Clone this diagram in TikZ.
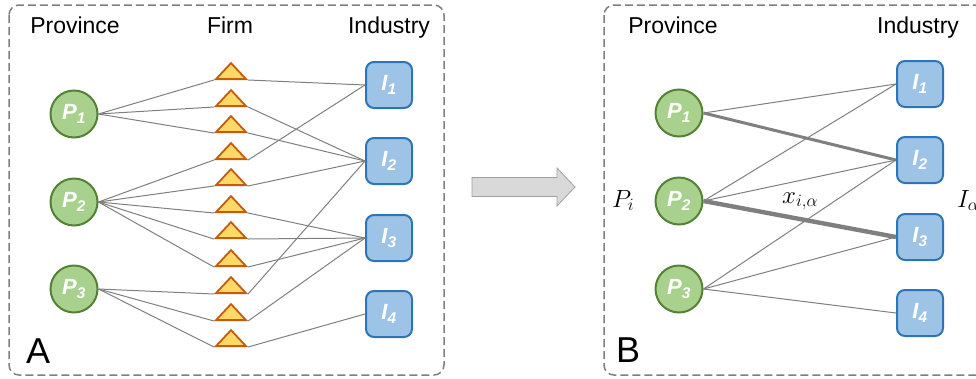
\documentclass[tikz,border=0pt]{standalone}
\usepackage{fontspec}
\setmainfont{Liberation Sans}
\usetikzlibrary{shapes.geometric}
\definecolor{provfill}{HTML}{A9D18E}
\definecolor{provdraw}{HTML}{548235}
\definecolor{firmfill}{HTML}{FFD966}
\definecolor{firmdraw}{HTML}{C55A11}
\definecolor{indfill}{HTML}{9DC3E6}
\definecolor{inddraw}{HTML}{2E75B6}
\definecolor{tiegray}{HTML}{7F7F7F}
\definecolor{panelgray}{HTML}{7F7F7F}
\definecolor{arrowfill}{HTML}{D9D9D9}
\definecolor{arrowdraw}{HTML}{A0A0A0}
\tikzset{
  provnode/.style={
    circle, draw=provdraw, fill=provfill, line width=2pt,
    minimum size=47pt, inner sep=0pt, text=white,
    font=\fontsize{22}{24}\selectfont\bfseries\itshape
  },
  firmtri/.style={
    isosceles triangle, isosceles triangle stretches,
    shape border rotate=90, draw=firmdraw, fill=firmfill,
    line width=1.8pt, minimum width=30pt, minimum height=16pt,
    inner sep=0pt, anchor=lower side
  },
  indbox/.style={
    rectangle, rounded corners=8pt, draw=inddraw, fill=indfill,
    line width=2pt, minimum size=46pt, inner sep=0pt, text=white,
    font=\fontsize{22}{24}\selectfont\bfseries\itshape
  },
  tieline/.style={draw=tiegray, line width=#1},
  tieline/.default=1pt,
  paneltitle/.style={font=\fontsize{23}{26}\selectfont, anchor=base, inner sep=0pt},
  panelbox/.style={
    draw=panelgray, line width=1.5pt, dash pattern=on 8pt off 4pt,
    rounded corners=10pt
  },
  panelletter/.style={font=\fontsize{36}{40}\selectfont, anchor=base west, inner sep=0pt},
  mathlabel/.style={font=\fontsize{26}{28}\selectfont, anchor=base west, inner sep=0pt},
  bigarrow/.style={draw=arrowdraw, fill=arrowfill, line width=0.8pt},
}

\begin{document}
\begin{tikzpicture}[x=1pt, y=-1pt]
  \useasboundingbox (0,0) rectangle (976,378);
  \clip (0,0) rectangle (976,378);

  % ── Panel A ──
  \draw[panelbox] (9,5) rectangle (444,375);
  \node[paneltitle] (titleprovA) at (75,33) {Province};
  \node[paneltitle] (titlefirm) at (230,33) {Firm};
  \node[paneltitle] (titleindA) at (389,33) {Industry};
  \node[panelletter] (letterA) at (26,363) {A};

  % Provinces
  \node[provnode] (pA1) at (74,114) {P\textsubscript{1}};
  \node[provnode] (pA2) at (74,202) {P\textsubscript{2}};
  \node[provnode] (pA3) at (74,289) {P\textsubscript{3}};

  % Firms
  \node[firmtri] (f1) at (231,80) {};
  \node[firmtri] (f2) at (231,107) {};
  \node[firmtri] (f3) at (231,133) {};
  \node[firmtri] (f4) at (231,160) {};
  \node[firmtri] (f5) at (231,186) {};
  \node[firmtri] (f6) at (231,213) {};
  \node[firmtri] (f7) at (231,239) {};
  \node[firmtri] (f8) at (231,267) {};
  \node[firmtri] (f9) at (231,294) {};
  \node[firmtri] (f10) at (231,321) {};
  \node[firmtri] (f11) at (231,347) {};

  % Industries
  \node[indbox] (iA1) at (389,85) {I\textsubscript{1}};
  \node[indbox] (iA2) at (389,161) {I\textsubscript{2}};
  \node[indbox] (iA3) at (389,238) {I\textsubscript{3}};
  \node[indbox] (iA4) at (389,314) {I\textsubscript{4}};

  % Province -- firm
  \draw[tieline] (pA1.east) -- (f1.left corner);
  \draw[tieline] (pA1.east) -- (f2.left corner);
  \draw[tieline] (pA1.east) -- (f3.left corner);
  \draw[tieline] (pA2.east) -- (f4.left corner);
  \draw[tieline] (pA2.east) -- (f5.left corner);
  \draw[tieline] (pA2.east) -- (f6.left corner);
  \draw[tieline] (pA2.east) -- (f7.left corner);
  \draw[tieline] (pA2.east) -- (f8.left corner);
  \draw[tieline] (pA3.east) -- (f9.left corner);
  \draw[tieline] (pA3.east) -- (f10.left corner);
  \draw[tieline] (pA3.east) -- (f11.left corner);

  % Firm -- industry
  \draw[tieline] (f1.right corner) -- (iA1.west);
  \draw[tieline] (f2.right corner) -- (iA2.west);
  \draw[tieline] (f3.right corner) -- (iA2.west);
  \draw[tieline] (f4.right corner) -- (iA1.west);
  \draw[tieline] (f5.right corner) -- (iA2.west);
  \draw[tieline] (f6.right corner) -- (iA3.west);
  \draw[tieline] (f7.right corner) -- (iA3.west);
  \draw[tieline] (f8.right corner) -- (iA3.west);
  \draw[tieline] (f9.right corner) -- (iA2.west);
  \draw[tieline] (f10.right corner) -- (iA3.west);
  \draw[tieline] (f11.right corner) -- (iA4.west);

  % ── Transition arrow ──
  \draw[bigarrow] (472,177.5) -- (557,177.5) -- (557,168) -- (575,187)
    -- (557,206) -- (557,196.5) -- (472,196.5) -- cycle;

  % ── Panel B ──
  \draw[panelbox] (604,5) rectangle (1010,375);
  \node[paneltitle] (titleprovB) at (673,33) {Province};
  \node[paneltitle] (titleindB) at (918,33) {Industry};
  \node[panelletter] (letterB) at (616,362) {B};

  \node[provnode] (pB1) at (679,113) {P\textsubscript{1}};
  \node[provnode] (pB2) at (679,201) {P\textsubscript{2}};
  \node[provnode] (pB3) at (679,289) {P\textsubscript{3}};

  \node[indbox] (iB1) at (920,84) {I\textsubscript{1}};
  \node[indbox] (iB2) at (920,160) {I\textsubscript{2}};
  \node[indbox] (iB3) at (920,237) {I\textsubscript{3}};
  \node[indbox] (iB4) at (920,313) {I\textsubscript{4}};

  \draw[tieline] (pB1.east) -- (iB1.west);
  \draw[tieline=3pt] (pB1.east) -- (iB2.west);
  \draw[tieline] (pB2.east) -- (iB1.west);
  \draw[tieline] (pB2.east) -- (iB2.west);
  \draw[tieline=4.4pt] (pB2.east) -- (iB3.west);
  \draw[tieline] (pB3.east) -- (iB2.west);
  \draw[tieline] (pB3.east) -- (iB3.west);
  \draw[tieline] (pB3.east) -- (iB4.west);

  % Symbols
  \node[mathlabel] (symP) at (612,207) {$P_i$};
  \node[mathlabel] (symx) at (782,203) {$x_{i,\alpha}$};
  \node[mathlabel] (symI) at (957,207) {$I_\alpha$};
\end{tikzpicture}
\end{document}
